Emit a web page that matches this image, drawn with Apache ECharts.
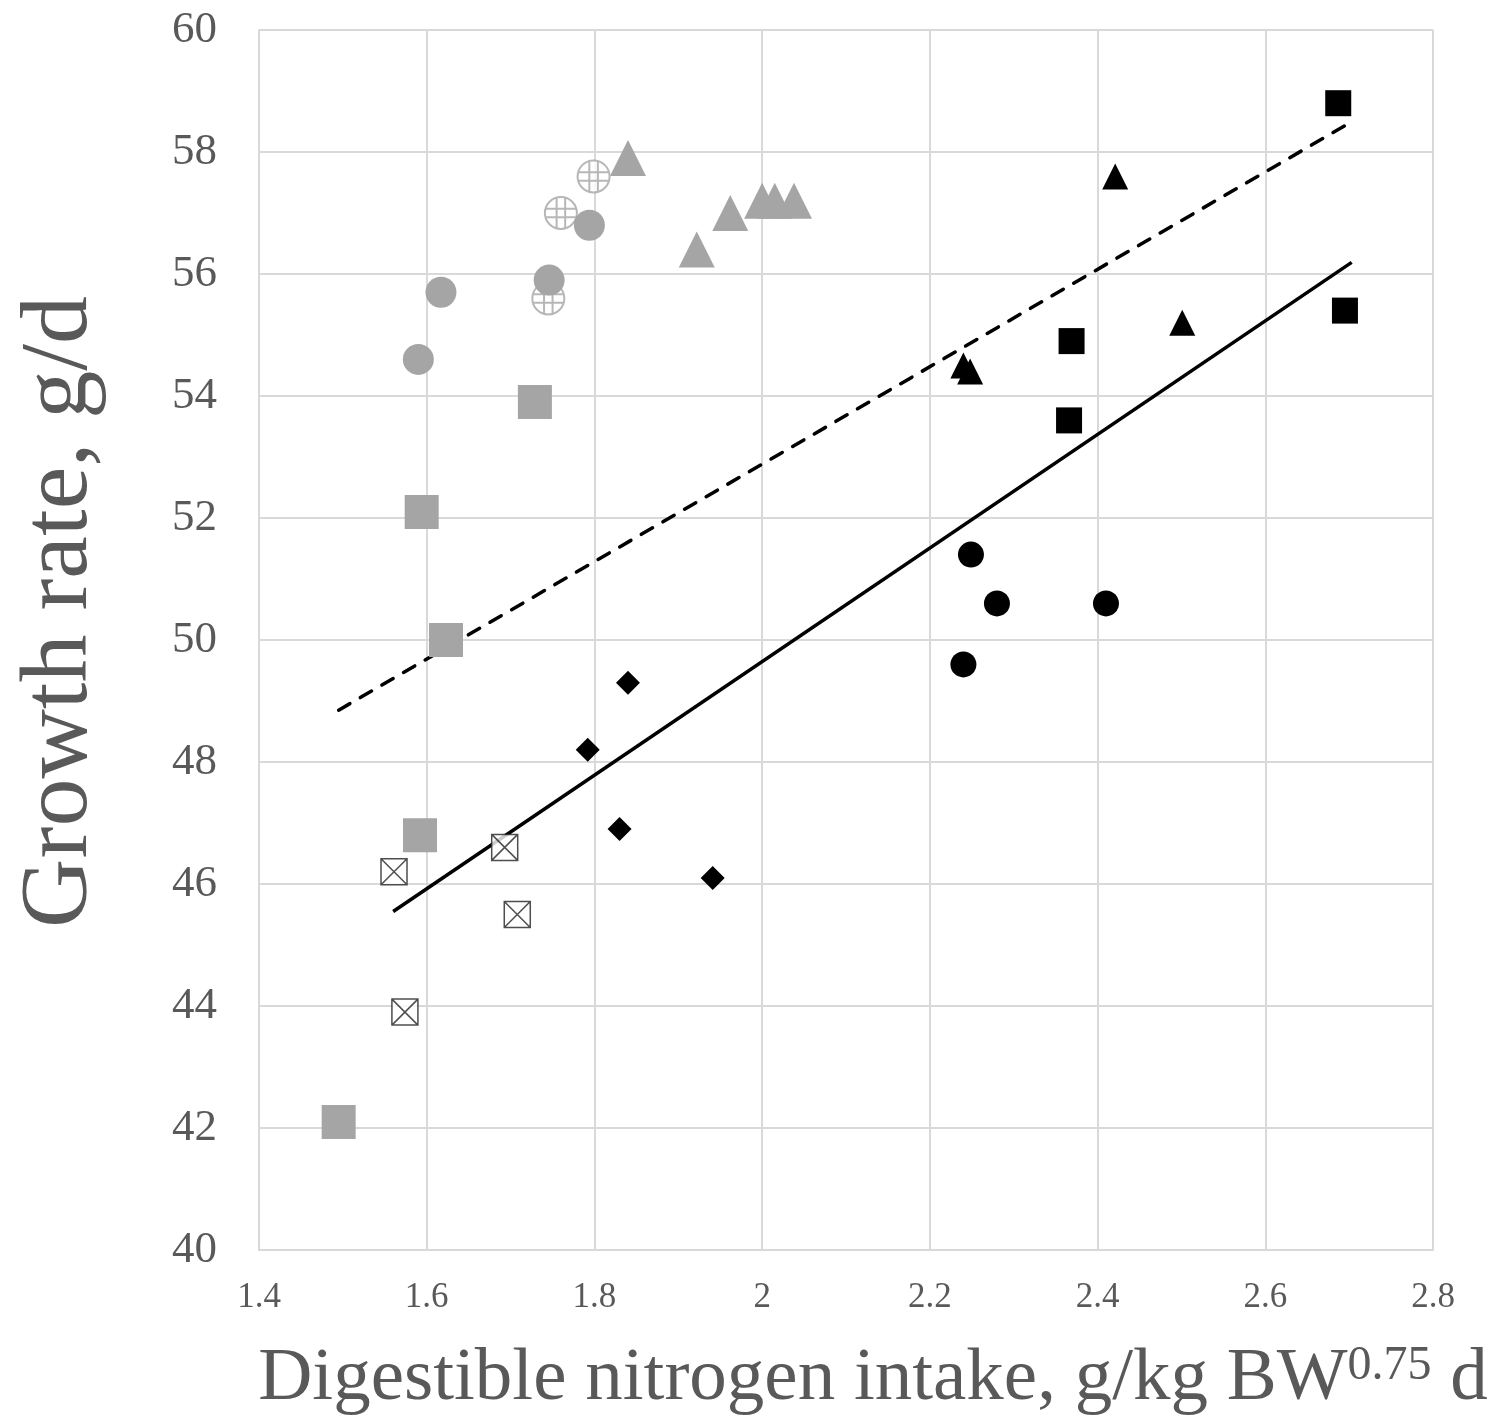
<!DOCTYPE html>
<html>
<head>
<meta charset="utf-8">
<script src="https://cdn.jsdelivr.net/npm/echarts@6/dist/echarts.min.js"></script>
<style>
  html, body { margin: 0; padding: 0; background: #fff; }
  #chart { width: 1493px; height: 1422px; }
</style>
</head>
<body>
<div id="chart"></div>
<script>
// 坐标轴刻度
const xTicks = [1.4, 1.6, 1.8, 2, 2.2, 2.4, 2.6, 2.8]
const yTicks = [40, 42, 44, 46, 48, 50, 52, 54, 56, 58, 60]

// 灰色组
const graySquares = [[1.495, 42.1], [1.592, 46.8], [1.623, 50.0], [1.594, 52.1], [1.729, 53.9]]
const grayCircles = [[1.590, 54.6], [1.617, 55.7], [1.746, 55.9], [1.794, 56.8]]
const grayHatched = [[1.745, 55.6], [1.760, 57.0], [1.799, 57.6]]
const grayTriangles = [[1.840, 57.9], [1.922, 56.4], [1.962, 57.0], [2.000, 57.2], [2.015, 57.2], [2.038, 57.2]]

// 黑色组
const blackSquares = [[2.687, 58.8], [2.695, 55.4], [2.369, 54.9], [2.366, 53.6]]
const blackTriangles = [[2.421, 57.6], [2.501, 55.2], [2.240, 54.5], [2.248, 54.4]]
const blackCircles = [[2.249, 51.4], [2.280, 50.6], [2.410, 50.6], [2.240, 49.6]]
const blackDiamonds = [[1.840, 49.3], [1.792, 48.2], [1.830, 46.9], [1.941, 46.1]]
const crossBoxes = [[1.561, 46.2], [1.693, 46.6], [1.708, 45.5], [1.574, 43.9]]

// 回归线
const solidLine = [[1.560, 45.55], [2.703, 56.19]]
const dashedLine = [[1.495, 48.85], [2.701, 58.48]]

const GRAY = '#a5a5a5'
const TEXT = '#595959'
const hatchedPath = 'path://M0,15 A15,15 0 1,1 30,15 A15,15 0 1,1 0,15 Z M11,0.6 L11,29.4 M19,0.6 L19,29.4 M0.6,11 L29.4,11 M0.6,19 L29.4,19'
const crossBoxPath = 'path://M0,0 L30,0 L30,30 L0,30 Z M0,0 L30,30 M30,0 L0,30'

function scatter(data, symbol, size, color, extra) {
  return Object.assign({
    type: 'scatter',
    data: data,
    symbol: symbol,
    symbolSize: size,
    itemStyle: { color: color, opacity: 1 },
    z: 3
  }, extra || {})
}

const myChart = echarts.init(document.getElementById('chart'))
myChart.setOption({
  animation: false,
  textStyle: { fontFamily: 'Liberation Serif' },
  grid: { left: 259, right: 60, top: 30, bottom: 170 },
  xAxis: {
    type: 'value',
    min: xTicks[0],
    max: xTicks[xTicks.length - 1],
    interval: 0.2,
    name: 'Digestible nitrogen intake, g/kg BW{sup|0.75} d',
    nameLocation: 'middle',
    nameGap: 92,
    nameTextStyle: {
      color: TEXT,
      fontSize: 75,
      fontFamily: 'Liberation Serif',
      padding: [0, 0, 0, 54],
      rich: {
        sup: { fontSize: 48, color: TEXT, fontFamily: 'Liberation Serif', verticalAlign: 'top', padding: [0, 0, 26, 0] }
      }
    },
    axisLabel: {
      color: TEXT,
      fontSize: 35,
      margin: 30,
      formatter: v => String(Math.round(v * 10) / 10)
    },
    axisLine: { show: true, lineStyle: { color: '#d9d9d9', width: 2 } },
    axisTick: { show: false },
    splitLine: { show: true, lineStyle: { color: '#d9d9d9', width: 2 } }
  },
  yAxis: {
    type: 'value',
    min: yTicks[0],
    max: yTicks[yTicks.length - 1],
    interval: 2,
    name: 'Growth rate, g/d',
    nameLocation: 'middle',
    nameGap: 150,
    nameTextStyle: { color: TEXT, fontSize: 96, fontFamily: 'Liberation Serif', padding: [0, 0, 0, 56] },
    axisLabel: { color: TEXT, fontSize: 45, margin: 42 },
    axisLine: { show: true, lineStyle: { color: '#d9d9d9', width: 2 } },
    axisTick: { show: false },
    splitLine: { show: true, lineStyle: { color: '#d9d9d9', width: 2 } }
  },
  series: [
    {
      type: 'line',
      data: solidLine,
      symbol: 'none',
      lineStyle: { color: '#000', width: 3.5, type: 'solid' },
      z: 2
    },
    {
      type: 'line',
      data: dashedLine,
      symbol: 'none',
      lineStyle: { color: '#000', width: 3.5, type: [13, 12], cap: 'round' },
      z: 2
    },
    scatter(grayHatched, hatchedPath, 32, '#fff', { itemStyle: { color: '#fff', borderColor: GRAY, borderWidth: 2 } }),
    scatter(graySquares, 'rect', 34, GRAY),
    scatter(grayCircles, 'circle', 31, GRAY),
    scatter(grayTriangles, 'triangle', 36, GRAY),
    scatter(blackSquares, 'rect', 26, '#000'),
    scatter(blackTriangles, 'triangle', 26, '#000'),
    scatter(blackCircles, 'circle', 26, '#000'),
    scatter(blackDiamonds, 'diamond', 24, '#000'),
    scatter(crossBoxes, crossBoxPath, 26, '#fff', { itemStyle: { color: '#fff', borderColor: '#222', borderWidth: 1.5 } })
  ]
})
</script>
</body>
</html>
